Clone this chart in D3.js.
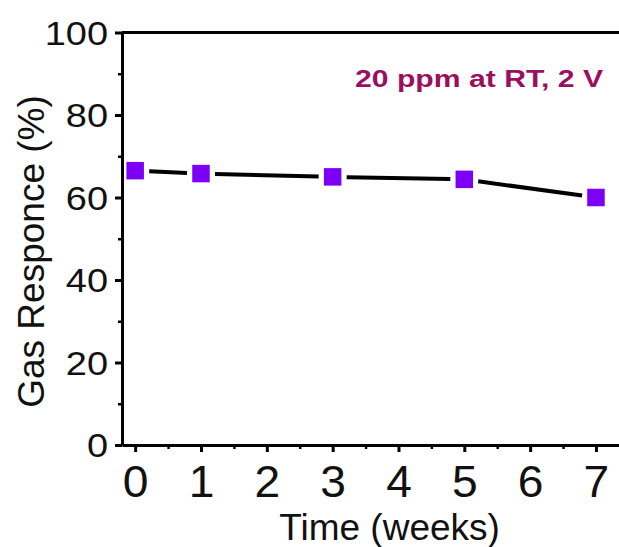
<!DOCTYPE html>
<html>
<head>
<meta charset="utf-8">
<script src="https://cdn.jsdelivr.net/npm/d3@7"></script>
<style>
  body { margin: 0; background: #fff; }
  svg { display: block; font-family: "Liberation Sans", Arial, sans-serif; }
</style>
</head>
<body>
<figure id="chart" style="margin:0"></figure>
<script>
// data
const weeks = [0, 1, 3, 5, 7];
const response = [66.5, 65.8, 65.0, 64.4, 60.0];
const xTicks = [0, 1, 2, 3, 4, 5, 6, 7];
const xMinor = [0.5, 1.5, 2.5, 3.5, 4.5, 5.5, 6.5];
const yTicks = [0, 20, 40, 60, 80, 100];
const yMinor = [10, 30, 50, 70, 90];
const note = "20 ppm at RT, 2 V";

const width = 619;
const height = 547;
const plotLeft = 122, plotTop = 32.5, plotBottom = 445;

const svg = d3.select("figure#chart")
  .append("svg")
  .attr("width", width)
  .attr("height", height);

const x = d3.scaleLinear().domain([-0.2, 7.35]).range([plotLeft, width]);
const y = d3.scaleLinear().domain([0, 100]).range([plotBottom, plotTop]);

// top frame line
svg.append("line")
  .attr("x1", plotLeft).attr("x2", width)
  .attr("y1", y(100)).attr("y2", y(100))
  .attr("stroke", "#000").attr("stroke-width", 3);

// minor ticks
svg.append("g")
  .attr("transform", `translate(0,${plotBottom})`)
  .call(d3.axisBottom(x).tickValues(xMinor).tickSize(4).tickFormat(""))
  .call(g => g.select(".domain").remove())
  .selectAll("line").attr("stroke-width", 2.5);

svg.append("g")
  .attr("transform", `translate(${plotLeft},0)`)
  .call(d3.axisLeft(y).tickValues(yMinor).tickSize(4).tickFormat(""))
  .call(g => g.select(".domain").remove())
  .selectAll("line").attr("stroke-width", 2.5);

// x axis
const xAxis = svg.append("g")
  .attr("transform", `translate(0,${plotBottom})`)
  .call(d3.axisBottom(x).tickValues(xTicks).tickSize(7).tickSizeOuter(0));
xAxis.select(".domain").attr("stroke-width", 3);
xAxis.selectAll(".tick line").attr("stroke-width", 3);
xAxis.selectAll(".tick text")
  .attr("y", 52).attr("dy", 0)
  .attr("font-size", 44)
  .attr("fill", "#111")
  .attr("transform", "scale(1.05,1)");

// y axis
const yAxis = svg.append("g")
  .attr("transform", `translate(${plotLeft},0)`)
  .call(d3.axisLeft(y).tickValues(yTicks).tickSize(7).tickSizeOuter(0));
yAxis.select(".domain").attr("stroke-width", 3);
yAxis.selectAll(".tick line").attr("stroke-width", 3);
yAxis.selectAll(".tick text")
  .attr("font-size", 33)
  .attr("fill", "#111")
  .attr("dy", "0.36em")
  .attr("x", -14 / 1.15)
  .attr("transform", "scale(1.15,1)");

// axis titles
svg.append("text")
  .attr("x", x(3.5) + 24)
  .attr("y", 540)
  .attr("text-anchor", "middle")
  .attr("font-size", 37)
  .attr("fill", "#111")
  .text("Time (weeks)");

svg.append("text")
  .attr("transform", `translate(44,${(405 + 98) / 2}) rotate(-90)`)
  .attr("text-anchor", "middle")
  .attr("font-size", 37)
  .attr("fill", "#111")
  .text("Gas Responce (%)");

// connecting line, split into segments that stop short of the markers
const pts = weeks.map((w, i) => [x(w), y(response[i])]);
const gap = 14;
const segs = d3.pairs(pts).map(([a, b]) => {
  const dx = b[0] - a[0], dy = b[1] - a[1];
  const len = Math.hypot(dx, dy);
  const ux = dx / len, uy = dy / len;
  return [[a[0] + ux * gap, a[1] + uy * gap], [b[0] - ux * gap, b[1] - uy * gap]];
});
svg.selectAll("line.seg")
  .data(segs)
  .enter()
  .append("line")
  .attr("class", "seg")
  .attr("x1", d => d[0][0]).attr("y1", d => d[0][1])
  .attr("x2", d => d[1][0]).attr("y2", d => d[1][1])
  .attr("stroke", "#000")
  .attr("stroke-width", 4);

// square markers
const size = 17.5;
svg.selectAll("rect.pt")
  .data(weeks)
  .enter()
  .append("rect")
  .attr("class", "pt")
  .attr("x", (d) => x(d) - size / 2)
  .attr("y", (d, i) => y(response[i]) - size / 2)
  .attr("width", size)
  .attr("height", size)
  .attr("fill", "#7b00f5");

// annotation
svg.append("text")
  .attr("x", 355)
  .attr("y", 87)
  .attr("font-size", 24)
  .attr("font-weight", "bold")
  .attr("fill", "#9b0f5f")
  .attr("textLength", 248)
  .attr("lengthAdjust", "spacingAndGlyphs")
  .text(note);
</script>
</body>
</html>
